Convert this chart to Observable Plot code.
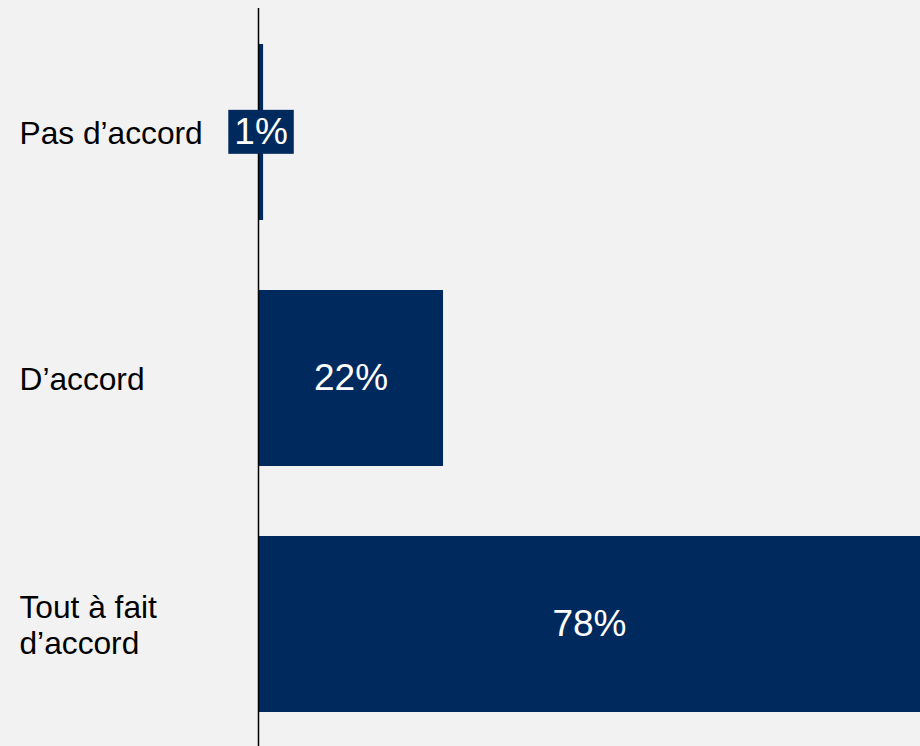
<!DOCTYPE html>
<html>
<head>
<meta charset="utf-8">
<script src="https://cdn.jsdelivr.net/npm/d3@7"></script>
<script src="https://cdn.jsdelivr.net/npm/@observablehq/plot@0.6"></script>
<style>
  html, body { margin: 0; padding: 0; background: #f2f2f2; }
  #chart svg { display: block; background: #f2f2f2; }
</style>
</head>
<body>
<div id="chart"></div>
<script>
const categories = ["Pas d’accord", "D’accord", "Tout à fait\nd’accord"];
const values = [0.6, 21.8, 78];
const valueLabels = ["1%", "22%", "78%"];

const data = categories.map((c, i) => ({cat: c, value: values[i], label: valueLabels[i]}));
const navy = "#002A5E";

const plot = Plot.plot({
  width: 920,
  height: 746,
  marginLeft: 258,
  marginRight: 0,
  marginTop: 8,
  marginBottom: -2,
  style: {background: "#f2f2f2", fontFamily: "Liberation Sans, Arial, sans-serif"},
  x: {domain: [0, 78], axis: null},
  y: {domain: categories, axis: null, paddingInner: 0.286, paddingOuter: 0.143},
  marks: [
    Plot.barX(data, {y: "cat", x: "value", fill: navy}),
    Plot.ruleX([0], {stroke: "#000", strokeWidth: 1.5}),
    Plot.text(data, {
      y: "cat", text: "cat", frameAnchor: "left", textAnchor: "start",
      dx: -239, fontSize: 31.7, fill: "#000", lineHeight: 1.13
    }),
    Plot.text(data, {
      y: "cat", x: d => d.value / 2, text: "label",
      fontSize: 37, fill: "#fff"
    })
  ]
});

document.getElementById("chart").appendChild(plot);

// Navy background box behind each value label (as in the reference)
const groups = plot.querySelectorAll('g[aria-label="text"]');
const g = groups[groups.length - 1];
if (g) {
  g.querySelectorAll("text").forEach(t => {
    const b = t.getBBox();
    const r = document.createElementNS("http://www.w3.org/2000/svg", "rect");
    const padX = 6;
    const boxH = b.height + 3;
    r.setAttribute("x", b.x - padX);
    r.setAttribute("y", b.y + b.height / 2 - boxH / 2);
    r.setAttribute("width", b.width + 2 * padX);
    r.setAttribute("height", boxH);
    r.setAttribute("fill", navy);
    const tr = t.getAttribute("transform");
    if (tr) r.setAttribute("transform", tr);
    t.parentNode.insertBefore(r, t);
  });
}
</script>
</body>
</html>
